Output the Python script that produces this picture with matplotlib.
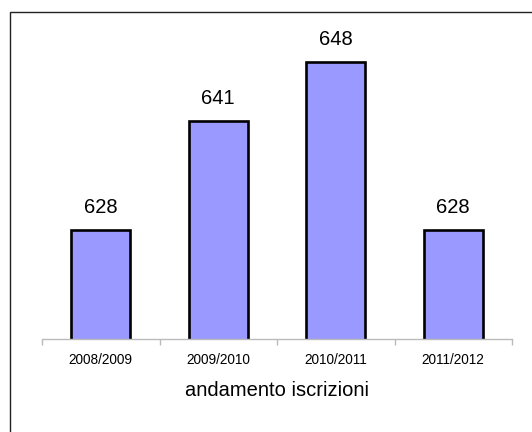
import matplotlib.pyplot as plt
from matplotlib.patches import Rectangle

# dati
anni = ["2008/2009", "2009/2010", "2010/2011", "2011/2012"]
iscrizioni = [628, 641, 648, 628]

plt.rcParams['font.family'] = ['Liberation Sans', 'DejaVu Sans']

W, H = 532, 432
fig = plt.figure(figsize=(W / 100, H / 100), dpi=100)

# cornice (visibile solo a sinistra e in alto)
fig.patches.append(Rectangle((10 / W, -0.1), 1.1, (H - 11.5) / H + 0.1,
                             transform=fig.transFigure, fill=False,
                             edgecolor='#222222', linewidth=1.0))

ax = fig.add_axes([42 / W, 1 - 339 / H, 470 / W, 294 / H])
x = list(range(len(anni)))
bars = ax.bar(x, iscrizioni, width=0.5, color='#9999FF', edgecolor='black',
              linewidth=1.9, zorder=3)
for xi, v in zip(x, iscrizioni):
    ax.annotate(str(v), (xi, v), xytext=(0, 12), textcoords='offset points',
                ha='center', va='baseline', fontsize=14.5, annotation_clip=False)

ax.set_xlim(-0.5, len(anni) - 0.5)
ax.set_ylim(615, 650)
ax.set_yticks([])
ax.set_xticks(x)
ax.set_xticklabels(anni, fontsize=9.8)
ax.set_xticks([i - 0.5 for i in range(len(anni) + 1)], minor=True)
ax.tick_params(axis='x', which='major', length=0, pad=10)
ax.tick_params(axis='x', which='minor', length=4, color='#BBBBBB', width=1)
for s in ['top', 'right', 'left']:
    ax.spines[s].set_visible(False)
ax.spines['bottom'].set_color('#BBBBBB')
ax.spines['bottom'].set_linewidth(1)
ax.spines['bottom'].set_zorder(4)

fig.text(277 / W, 1 - 390 / H, "andamento iscrizioni", ha='center', va='center',
         fontsize=14.5)

fig.savefig("out.png", dpi=100)
